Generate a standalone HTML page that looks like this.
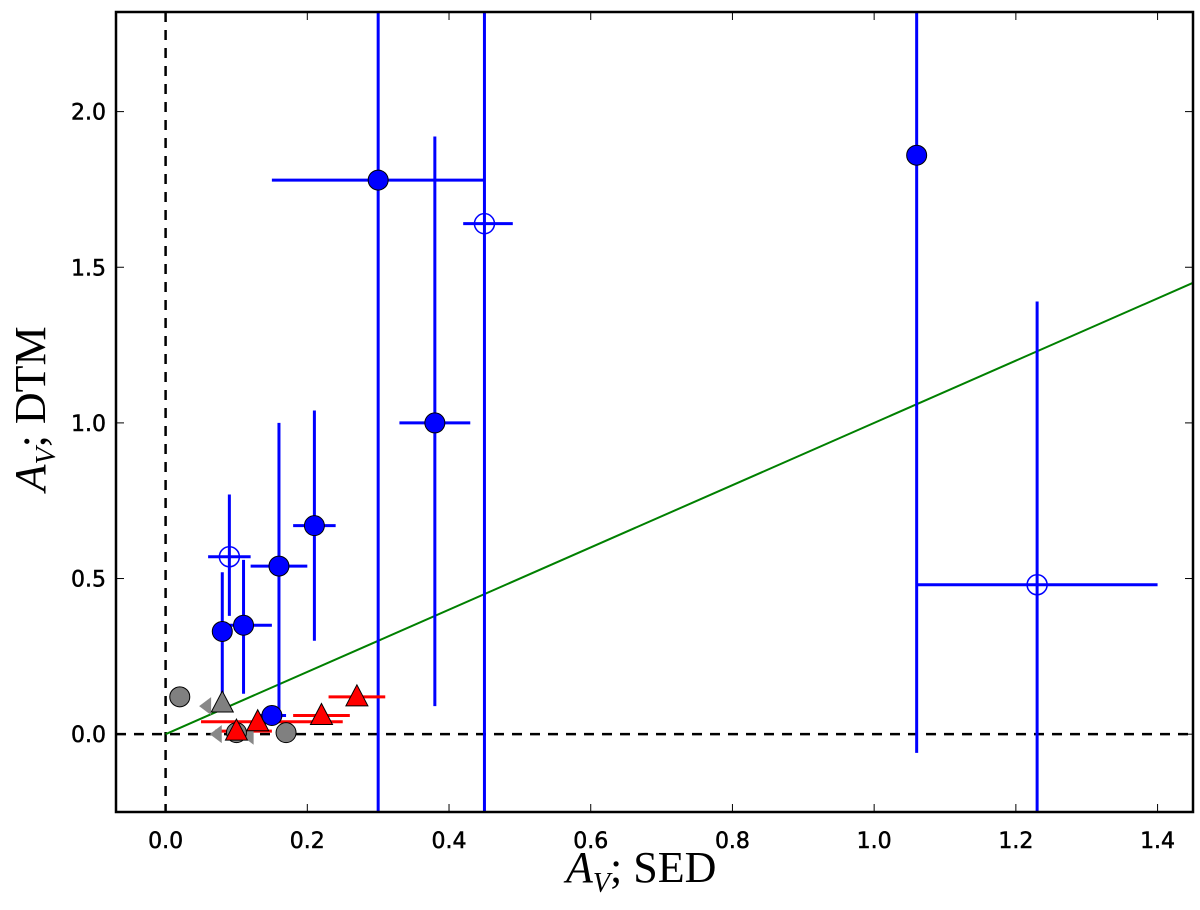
<!DOCTYPE html>
<html><head><meta charset="utf-8"><style>
body{margin:0;background:#fff}
svg{display:block}
text{font-family:"DejaVu Sans","Liberation Sans",sans-serif}
</style></head><body>
<svg id="chart" width="1200" height="910" viewBox="0 0 1200 910">
<g id="grid"></g>
<g id="marks"></g>
<g id="axes"></g>
</svg>
<script>
const xTicks=[0.0,0.2,0.4,0.6,0.8,1.0,1.2,1.4];
const yTicks=[0.0,0.5,1.0,1.5,2.0];
const blueX=[0.30,0.38,1.06,0.21,0.16,0.11,0.08,0.15];
const blueY=[1.78,1.00,1.86,0.67,0.54,0.35,0.33,0.06];
const blueXlo=[0.15,0.33,1.05,0.18,0.12,0.08,0.075,0.13];
const blueXhi=[0.45,0.43,1.07,0.24,0.20,0.15,0.085,0.17];
const blueYlo=[-0.3,0.09,-0.06,0.30,0.08,0.13,0.12,0.03];
const blueYhi=[2.5,1.92,2.5,1.04,1.00,0.56,0.52,0.09];
const openX=[0.45,0.09,1.23];
const openY=[1.64,0.57,0.48];
const openXlo=[0.42,0.06,1.06];
const openXhi=[0.49,0.12,1.40];
const openYlo=[-0.3,0.38,-0.3];
const openYhi=[2.5,0.77,1.39];
const redX=[0.27,0.22,0.13,0.10];
const redY=[0.12,0.06,0.04,0.01];
const redXlo=[0.23,0.18,0.05,0.07];
const redXhi=[0.31,0.26,0.25,0.15];
const grayX=[0.02,0.17,0.10];
const grayY=[0.12,0.005,0.005];
const grayTriX=[0.08];
const grayTriY=[0.10];
const arrowX=[0.06,0.075,0.12];
const arrowY=[0.09,0.0,-0.005];

const L=116,R=1193,T=12,B=812,x0=-0.07,x1=1.45,y0=-0.25,y1=2.32;
const sx=v=>L+(v-x0)/(x1-x0)*(R-L);
const sy=v=>B-(v-y0)/(y1-y0)*(B-T);
const NS='http://www.w3.org/2000/svg';
function mk(tag,attrs,parent){const e=document.createElementNS(NS,tag);for(const k in attrs)e.setAttribute(k,attrs[k]);parent.appendChild(e);return e;}
const clip=v=>Math.max(T,Math.min(B,v));
const grid=document.getElementById('grid'),marks=document.getElementById('marks'),axes=document.getElementById('axes');

let e;
e=mk('line',{x1:sx(0),x2:sx(0),y1:T,y2:B,stroke:'#000','stroke-width':2.5,'stroke-dasharray':'10,8'},grid);


e=mk('line',{x1:L,x2:R,y1:sy(0),y2:sy(0),stroke:'#000','stroke-width':2.5,'stroke-dasharray':'10,8'},grid);


e=mk('line',{x1:sx(0),y1:sy(0),x2:sx(x1),y2:sy(x1),stroke:'#008000','stroke-width':2},grid);



function errs(xs,ys,xl,xh,yl,yh,col,name){
 for(let i=0;i<xs.length;i++){
  const g=mk('g',{},marks);
  
  
  mk('line',{x1:sx(xl[i]),x2:sx(xh[i]),y1:sy(ys[i]),y2:sy(ys[i]),stroke:col,'stroke-width':3},g);
  if(yl) mk('line',{x1:sx(xs[i]),x2:sx(xs[i]),y1:clip(sy(yl[i])),y2:clip(sy(yh[i])),stroke:col,'stroke-width':3},g);
 }
}
errs(blueX,blueY,blueXlo,blueXhi,blueYlo,blueYhi,'#0000ff','blue-point');
errs(openX,openY,openXlo,openXhi,openYlo,openYhi,'#0000ff','open-point');
errs(redX,redY,redXlo,redXhi,null,null,'#ff0000','red-triangle');

for(let i=0;i<arrowX.length;i++){
 const cx=sx(arrowX[i]),cy=sy(arrowY[i]);
 e=mk('polygon',{points:`${cx-9},${cy} ${cx+3},${cy-9} ${cx+3},${cy+9}`,fill:'#888','stroke':'none'},marks);
 
 
}
for(let i=0;i<grayX.length;i++){
 e=mk('circle',{cx:sx(grayX[i]),cy:sy(grayY[i]),r:10,fill:'#808080',stroke:'#000','stroke-width':1},marks);
 
 
}
for(let i=0;i<grayTriX.length;i++){
 const cx=sx(grayTriX[i]),cy=sy(grayTriY[i]);
 e=mk('polygon',{points:`${cx},${cy-12} ${cx+11},${cy+9} ${cx-11},${cy+9}`,fill:'#808080',stroke:'#000','stroke-width':1},marks);
 
 
}
for(let i=0;i<redX.length;i++){
 const cx=sx(redX[i]),cy=sy(redY[i]);
 e=mk('polygon',{points:`${cx},${cy-12} ${cx+11},${cy+9} ${cx-11},${cy+9}`,fill:'#ff0000',stroke:'#000','stroke-width':1},marks);
 
 
}
for(let i=0;i<blueX.length;i++){
 e=mk('circle',{cx:sx(blueX[i]),cy:sy(blueY[i]),r:10,fill:'#0000ff',stroke:'#000','stroke-width':1},marks);
 
 
}
for(let i=0;i<openX.length;i++){
 e=mk('circle',{cx:sx(openX[i]),cy:sy(openY[i]),r:10,fill:'none',stroke:'#0000ff','stroke-width':1.5},marks);
 
 
}

e=mk('rect',{x:L,y:T,width:R-L,height:B-T,fill:'none',stroke:'#000','stroke-width':2.5},axes);


xTicks.forEach(v=>{
 const x=sx(v);
 mk('line',{x1:x,x2:x,y1:B,y2:B-8,stroke:'#000','stroke-width':1},axes);
 mk('line',{x1:x,x2:x,y1:T,y2:T+8,stroke:'#000','stroke-width':1},axes);
 e=mk('text',{x:x,y:B+36,'text-anchor':'middle','font-size':22,'stroke':'#000','stroke-width':0.5},axes);
 e.textContent=v.toFixed(1);
 
 
});
yTicks.forEach(v=>{
 const y=sy(v);
 mk('line',{x1:L,x2:L+8,y1:y,y2:y,stroke:'#000','stroke-width':1},axes);
 mk('line',{x1:R,x2:R-8,y1:y,y2:y,stroke:'#000','stroke-width':1},axes);
 e=mk('text',{x:L-10,y:y+8,'text-anchor':'end','font-size':22,'stroke':'#000','stroke-width':0.5},axes);
 e.textContent=v.toFixed(1);
 
 
});
</script>
<div style="position:absolute;left:566px;top:842px;font:44px 'Liberation Serif',serif;white-space:nowrap"><i>A</i><sub style="font-size:28px"><i>V</i></sub>; SED</div>
<div style="position:absolute;left:-86px;top:380px;width:240px;text-align:center;transform:rotate(-90deg);font:44px 'Liberation Serif',serif;white-space:nowrap"><i>A</i><sub style="font-size:28px"><i>V</i></sub>; DTM</div>
</body></html>
